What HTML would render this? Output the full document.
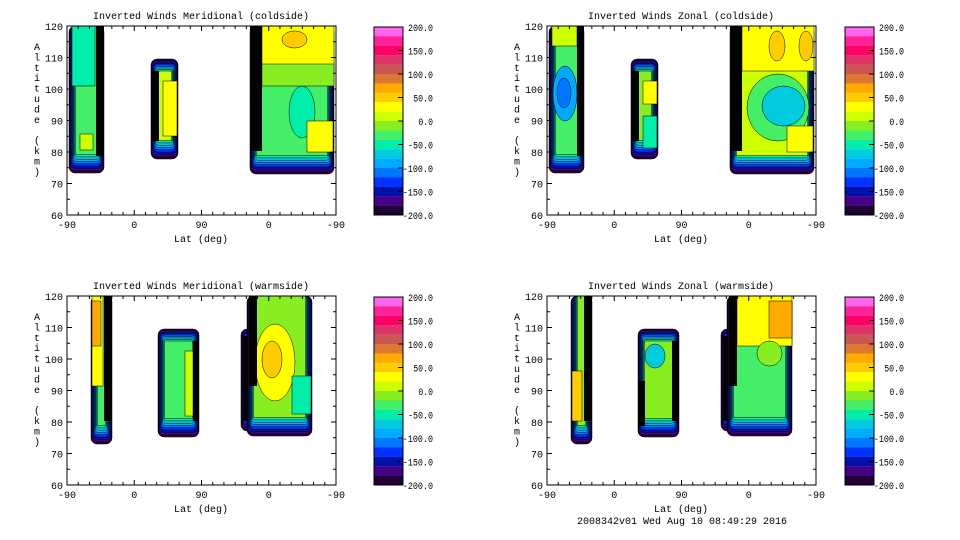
<!DOCTYPE html>
<html><head><meta charset="utf-8">
<style>html,body{margin:0;padding:0;background:#fff;width:960px;height:540px;overflow:hidden}
svg text{font-family:"Liberation Mono",monospace;font-size:10px;fill:#000}</style></head>
<body>
<svg id="s" width="960" height="540" xmlns="http://www.w3.org/2000/svg"></svg>
<script>
const S=document.getElementById('s');let h='';
const cb=['#ff66ee','#ff2299','#ff0066','#dd3366','#cc5555','#dd7733','#ffaa00','#ffcc00','#ffff00','#ccff00','#88ee22','#44ee66','#00eeaa','#00ccdd','#00aaff','#0077ff','#0033ff','#0011aa','#440088','#220033'];
const lay=['#220033','#440088','#0011aa','#0033ff','#0077ff','#00aaff','#00ccdd','#00eeaa'];
function blob(ox,oy,x0,x1,y0,y1,inner){
  let top=y0<=0;
  for(let i=0;i<lay.length;i++){
    let l=x0+i*0.8,r=x1-i*0.8,t=top?0:y0+i*1.5,b=y1-i*2.3;
    h+=`<rect x="${ox+l}" y="${oy+t}" width="${r-l}" height="${b-t}" rx="${Math.max(1,6-i*0.5)}" fill="${lay[i]}" stroke="#000" stroke-width="0.5"/>`;
  }
  let n=lay.length,l=x0+n*0.8,r=x1-n*0.8,t=top?0:y0+n*1.5,b=y1-n*2.3;
  h+=`<rect x="${ox+l}" y="${oy+t}" width="${r-l}" height="${b-t}" fill="${inner}" stroke="#000" stroke-width="0.5"/>`;
}
function R(ox,oy,x0,x1,y0,y1,c,st){h+=`<rect x="${ox+x0}" y="${oy+y0}" width="${x1-x0}" height="${y1-y0}" fill="${c}" ${st===0?'':'stroke="#000" stroke-width="0.5"'}/>`}
function E(ox,oy,x0,x1,y0,y1,c){h+=`<ellipse cx="${ox+(x0+x1)/2}" cy="${oy+(y0+y1)/2}" rx="${(x1-x0)/2}" ry="${(y1-y0)/2}" fill="${c}" stroke="#000" stroke-width="0.5"/>`}
function frame(ox,oy,title,cbx){
  h+=`<rect x="${ox}" y="${oy}" width="269" height="189" fill="none" stroke="#000" stroke-width="1"/>`;
  h+=`<text x="${ox+134}" y="${oy-7}" text-anchor="middle">${title}</text>`;
  for(let k=0;k<=12;k++){let y=oy+189-k*15.75,L=k%2==0?5:3;
    h+=`<line x1="${ox}" y1="${y}" x2="${ox+L}" y2="${y}" stroke="#000"/><line x1="${ox+269-L}" y1="${y}" x2="${ox+269}" y2="${y}" stroke="#000"/>`;
    if(k%2==0)h+=`<text x="${ox-4}" y="${y+4}" text-anchor="end">${60+k*5}</text>`;}
  for(let k=0;k<=24;k++){let x=ox+k*269/24,L=k%6==0?5:3;
    h+=`<line x1="${x}" y1="${oy+189}" x2="${x}" y2="${oy+189-L}" stroke="#000"/><line x1="${x}" y1="${oy}" x2="${x}" y2="${oy+L}" stroke="#000"/>`;}
  ['-90','0','90','0','-90'].forEach((t,i)=>h+=`<text x="${ox+i*67.25}" y="${oy+202}" text-anchor="middle">${t}</text>`);
  h+=`<text x="${ox+134}" y="${oy+216}" text-anchor="middle">Lat (deg)</text>`;
  'Altitude (km)'.split('').forEach((c,i)=>h+=`<text x="${ox-30}" y="${oy+24+i*10.4}" text-anchor="middle">${c}</text>`);
  for(let i=0;i<20;i++)h+=`<rect x="${cbx}" y="${oy+1+i*9.4}" width="29" height="9.5" fill="${cb[i]}"/>`;
  h+=`<rect x="${cbx}" y="${oy+1}" width="29" height="188" fill="none" stroke="#000"/>`;
  for(let k=0;k<=8;k++){let y=oy+1+k*23.5;if(k>0&&k<8)h+=`<line x1="${cbx+24}" y1="${y}" x2="${cbx+29}" y2="${y}" stroke="#000"/>`;
    let v=(200-k*50).toFixed(1);let w=(v.length*5.2-1).toFixed(1);
    h+=`<text x="${cbx+59-w}" y="${y+4}" textLength="${w}" lengthAdjust="spacingAndGlyphs">${v}</text>`;}
}
// TL
let ox=67,oy=26;
blob(ox,oy,2,37,0,147,'#44ee66');R(ox,oy,5,28,0,60,'#00eeaa');R(ox,oy,13,26,108,124,'#ccff00');R(ox,oy,29,37,0,130,'#000',0);
blob(ox,oy,84,111,33,133,'#ccff00');R(ox,oy,96,110,55,110,'#ffff00');R(ox,oy,84,92,45,115,'#000',0);
blob(ox,oy,183,267,0,148,'#44ee66');R(ox,oy,195,267,0,45,'#ffff00');R(ox,oy,195,267,38,60,'#88ee22');E(ox,oy,215,240,5,22,'#ffcc00');E(ox,oy,222,248,60,112,'#00eeaa');R(ox,oy,240,266,95,126,'#ffff00');R(ox,oy,183,195,0,125,'#000',0);
frame(ox,oy,'Inverted Winds Meridional (coldside)',374);
// TR
ox=547;oy=26;
blob(ox,oy,2,37,0,147,'#44ee66');R(ox,oy,5,30,0,20,'#ccff00');E(ox,oy,6,30,40,95,'#00aaff');E(ox,oy,10,24,52,82,'#0077ff');R(ox,oy,30,37,0,130,'#000',0);
blob(ox,oy,84,111,33,133,'#88ee22');R(ox,oy,96,110,55,78,'#ffff00');R(ox,oy,96,110,90,122,'#00eeaa');R(ox,oy,84,92,45,115,'#000',0);
blob(ox,oy,183,267,0,148,'#ccff00');R(ox,oy,195,267,0,45,'#ffff00');E(ox,oy,222,238,5,35,'#ffcc00');E(ox,oy,252,266,5,35,'#ffcc00');E(ox,oy,200,262,48,115,'#44ee66');E(ox,oy,215,258,60,100,'#00ccdd');R(ox,oy,240,266,100,126,'#ffff00');R(ox,oy,183,195,0,125,'#000',0);
frame(ox,oy,'Inverted Winds Zonal (coldside)',845);
// BL
ox=67;oy=296;
blob(ox,oy,24,45,0,148,'#44ee66');R(ox,oy,25,36,0,90,'#ffff00');R(ox,oy,25,34,5,50,'#ffaa00');R(ox,oy,37,45,0,125,'#000',0);
blob(ox,oy,91,132,33,141,'#44ee66');R(ox,oy,118,126,55,120,'#ccff00');R(ox,oy,126,132,45,125,'#000',0);
blob(ox,oy,174,186,33,135,'#44ee66');R(ox,oy,176,186,40,125,'#000',0);
blob(ox,oy,180,245,0,140,'#88ee22');E(ox,oy,188,228,28,105,'#ffff00');E(ox,oy,195,215,45,82,'#ffcc00');R(ox,oy,225,244,80,118,'#00eeaa');R(ox,oy,182,190,0,90,'#000',0);
frame(ox,oy,'Inverted Winds Meridional (warmside)',374);
// BR
ox=547;oy=296;
blob(ox,oy,24,45,0,148,'#88ee22');R(ox,oy,25,35,75,125,'#ffcc00');R(ox,oy,37,45,0,125,'#000',0);
blob(ox,oy,91,132,33,141,'#88ee22');E(ox,oy,98,118,48,72,'#00ccdd');R(ox,oy,125,132,45,125,'#000',0);R(ox,oy,91,98,85,130,'#000',0);
blob(ox,oy,174,186,33,135,'#44ee66');R(ox,oy,176,186,40,125,'#000',0);
blob(ox,oy,180,245,0,140,'#44ee66');R(ox,oy,190,245,0,50,'#ffff00');R(ox,oy,222,245,5,42,'#ffaa00');E(ox,oy,210,235,45,70,'#88ee22');R(ox,oy,182,190,0,90,'#000',0);
frame(ox,oy,'Inverted Winds Zonal (warmside)',845);
h+=`<text x="682" y="524" text-anchor="middle">2008342v01 Wed Aug 10 08:49:29 2016</text>`;
S.innerHTML=h;
</script>
</body></html>
